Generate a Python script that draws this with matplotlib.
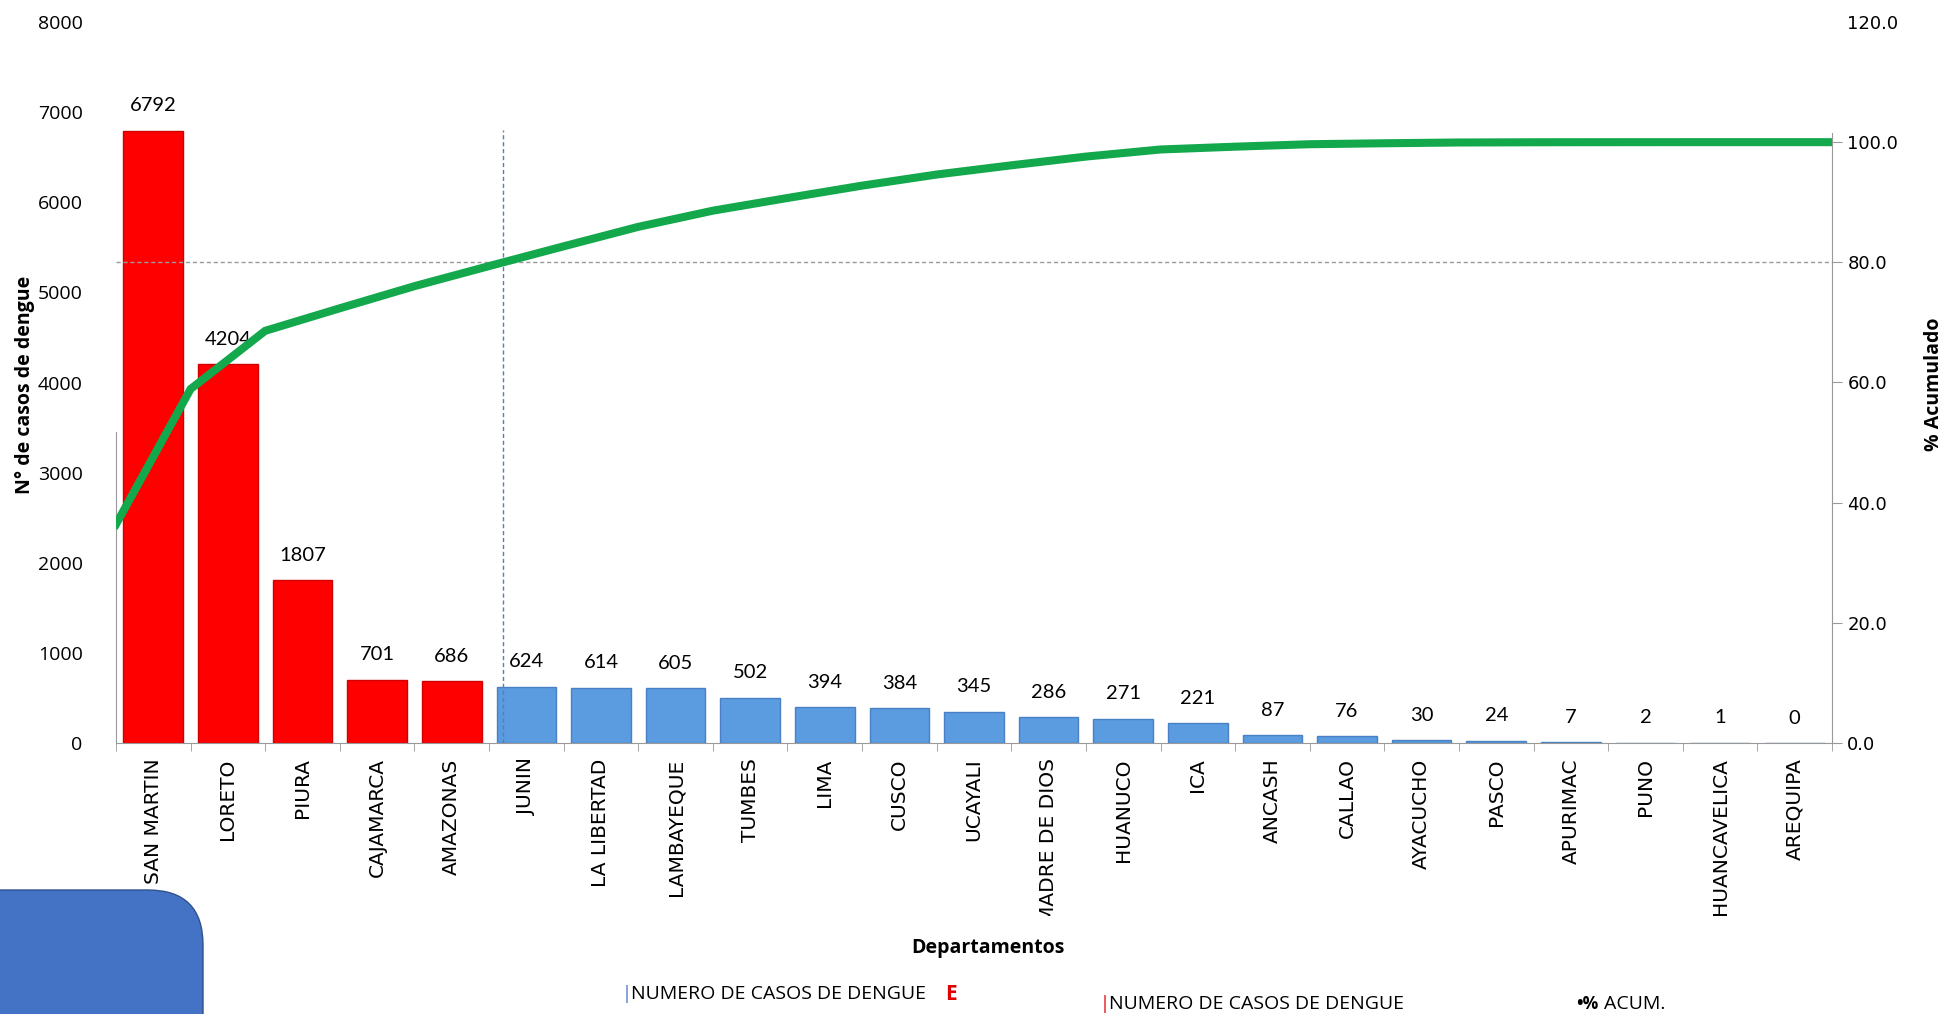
import numpy as np
import matplotlib
matplotlib.use('Agg')
import matplotlib.pyplot as plt
from matplotlib.patches import FancyBboxPatch
from matplotlib.transforms import IdentityTransform, Bbox

# Casos de dengue por departamento (diagrama de Pareto)
departamentos = ["SAN MARTIN", "LORETO", "PIURA", "CAJAMARCA", "AMAZONAS", "JUNIN",
                 "LA LIBERTAD", "LAMBAYEQUE", "TUMBES", "LIMA", "CUSCO", "UCAYALI",
                 "MADRE DE DIOS", "HUANUCO", "ICA", "ANCASH", "CALLAO", "AYACUCHO",
                 "PASCO", "APURIMAC", "PUNO", "HUANCAVELICA", "AREQUIPA"]
casos = [6792, 4204, 1807, 701, 686, 624, 614, 605, 502, 394, 384, 345,
         286, 271, 221, 87, 76, 30, 24, 7, 2, 1, 0]
n_rojos = 5
left_ticks = list(range(0, 8001, 1000))
right_ticks = list(range(0, 121, 20))

acum = np.cumsum(casos) / np.sum(casos) * 100

W, H = 1949, 1014
fig = plt.figure(figsize=(W / 100, H / 100), dpi=100)
ax = fig.add_axes([116 / W, 1 - 743 / H, (1832 - 116) / W, (743 - 22) / H])
ax2 = ax.twinx()

x = np.arange(len(departamentos))
colores = ['#FF0000' if i < n_rojos else '#5B9BE0' for i in x]
bordes = ['#D00000' if i < n_rojos else '#4A80C4' for i in x]
ax.bar(x, casos, width=0.8, color=colores, edgecolor=bordes, linewidth=1)
for xi, v in zip(x, casos):
    ax.annotate(str(v), (xi, v), xytext=(0, 18), textcoords='offset points',
                ha='center', va='center', fontsize=14.5, family='Lato')

ax.set_xlim(-0.5, len(x) - 0.5)
ax.set_ylim(0, 8000)
ax.set_yticks(left_ticks)
ax.set_yticklabels([str(t) for t in left_ticks], fontsize=14, family='Open Sans')
ax.tick_params(axis='y', length=0, pad=24)
ax.set_xticks(x)
ax.set_xticklabels(departamentos, rotation=90, fontsize=14.5, family='DejaVu Sans', va='top')
ax.tick_params(axis='x', length=0, pad=11)
ax.set_xticks(np.arange(-0.5, len(x)), minor=True)
ax.tick_params(axis='x', which='minor', length=6, color='#999999', direction='out')
# the long labels are cut off at the bottom, as in the original
corte = Bbox.from_extents(0, H - 916, W, H)
for lab in ax.get_xticklabels():
    lab.set_clip_box(corte)
    lab.set_clip_on(True)

for s in ['top', 'right']:
    ax.spines[s].set_visible(False)
ax.spines['left'].set_bounds(0, 3450)
ax.spines['left'].set_color('#999999')
ax.spines['bottom'].set_color('#999999')

# curva acumulada
lx = np.append(x - 0.5, x[-1] + 0.5)
ly = np.append(acum, acum[-1])
ax2.plot(lx, ly, color='#12A84B', lw=5.8, solid_joinstyle='miter', zorder=5)
ax2.axhline(80, color='#9a9a9a', ls=(0, (3, 2)), lw=1)
x80 = np.interp(80, acum, x - 0.5)
ax2.plot([x80, x80], [0, 102], color='#5B7FA8', ls=(0, (3, 2)), lw=1)
ax2.set_ylim(0, 120)
ax2.set_yticks(right_ticks)
ax2.set_yticklabels(['%.1f' % t for t in right_ticks], fontsize=13, family='DejaVu Sans')
ax2.tick_params(axis='y', length=7, color='#999999', pad=4)
ax2.yaxis.get_major_ticks()[-1].tick2line.set_visible(False)
for s in ['top', 'left', 'bottom']:
    ax2.spines[s].set_visible(False)
ax2.spines['right'].set_bounds(0, 101.5)
ax2.spines['right'].set_color('#999999')

# titulos de ejes
fig.text(25 / W, 1 - 385 / H, 'N° de casos de dengue', rotation=90, ha='center', va='center',
         fontsize=14, fontweight='bold', family='Open Sans')
fig.text(1934 / W, 1 - 384 / H, '% Acumulado', rotation=90, ha='center', va='center',
         fontsize=14, fontweight='bold', family='Open Sans')
fig.text(988 / W, 1 - 948 / H, 'Departamentos', ha='center', va='center',
         fontsize=14, fontweight='bold', family='Open Sans')

# leyenda
fam = ['Liberation Sans Narrow', 'Open Sans']
fig.text(622 / W, 1 - 994 / H, '|', color='#4472C4', ha='left', va='center', fontsize=13, family=fam)
fig.text(631 / W, 1 - 994 / H, 'NUMERO DE CASOS DE DENGUE', ha='left', va='center', fontsize=14, family=fam)
fig.text(945 / W, 1 - 994 / H, 'E', color='#E00000', ha='left', va='center', fontsize=15,
         fontweight='bold', family='Open Sans')
fig.text(1100 / W, 1 - 1004 / H, '|', color='#E00000', ha='left', va='center', fontsize=13, family=fam)
fig.text(1109 / W, 1 - 1004 / H, 'NUMERO DE CASOS DE DENGUE', ha='left', va='center', fontsize=14, family=fam)
fig.text(1576 / W, 1 - 1004 / H, '•%', ha='left', va='center', fontsize=12.5, fontweight='bold', family=fam)
fig.text(1604 / W, 1 - 1004 / H, 'ACUM.', ha='left', va='center', fontsize=14, family=fam)

# recuadro azul en la esquina
caja = FancyBboxPatch((-60, -60), 263, 1014 - 890 + 60, boxstyle='round,pad=0,rounding_size=55',
                      transform=IdentityTransform(), facecolor='#4472C4', edgecolor='#2F528F',
                      lw=1, zorder=10)
fig.add_artist(caja)

fig.savefig('out.png', dpi=100)
